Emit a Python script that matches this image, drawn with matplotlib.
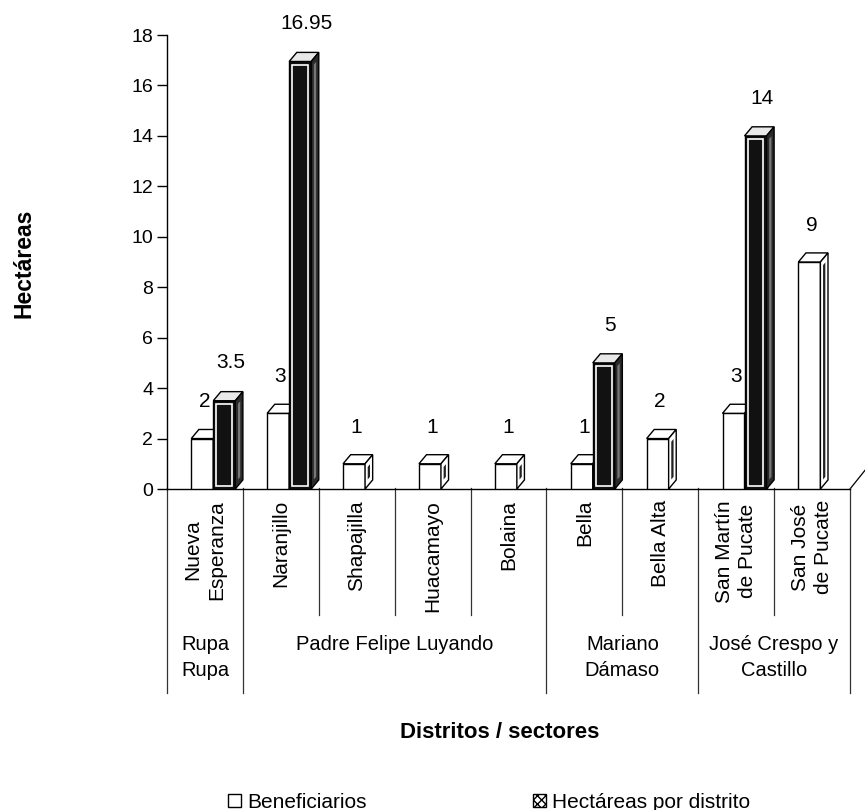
import matplotlib.pyplot as plt
from matplotlib.patches import Polygon, Patch
from matplotlib.transforms import blended_transform_factory

plt.rcParams['font.family'] = ['Liberation Sans', 'DejaVu Sans']

# data
sectores = ['Nueva\nEsperanza', 'Naranjillo', 'Shapajilla', 'Huacamayo', 'Bolaina',
            'Bella', 'Bella Alta', 'San Martín\nde Pucate', 'San José\nde Pucate']
beneficiarios = [2, 3, 1, 1, 1, 1, 2, 3, 9]
hectareas = [3.5, 16.95, None, None, None, 5, None, 14, None]
distritos = ['Rupa\nRupa', 'Padre Felipe Luyando', 'Mariano\nDámaso', 'José Crespo y\nCastillo']
sectores_por_distrito = [1, 4, 2, 2]
yticks = list(range(0, 19, 2))

W, H = 865, 810
fig = plt.figure(figsize=(W / 100, H / 100), dpi=100)
ax = fig.add_axes([167 / W, 1 - 489 / H, (850 - 167) / W, (489 - 35) / H])
ax.set_xlim(0, len(sectores))
ax.set_ylim(0, 18)

# fake 3D depth, in data units
dx, dy = 0.1, 0.36
bw = 0.29
z = [3]


def bar3d(x, h, face, side, top, dark=False):
    x0, x1 = x - bw / 2, x + bw / 2
    zo = z[0]
    ax.bar(x, h, bw, color=face, edgecolor='black', lw=1, zorder=zo)
    if dark:
        ax.bar(x, h - 0.24, bw - 0.08, bottom=0.12, fill=False,
               edgecolor='white', lw=1.2, zorder=zo + 0.1)
    ax.add_patch(Polygon([(x0, h), (x1, h), (x1 + dx, h + dy), (x0 + dx, h + dy)],
                         closed=True, fc=top, ec='black', lw=1, zorder=zo))
    ax.add_patch(Polygon([(x1, 0), (x1 + dx, dy), (x1 + dx, h + dy), (x1, h)],
                         closed=True, fc=side, ec='black', lw=1, zorder=zo))
    # inner stripe on the side face
    ax.add_patch(Polygon([(x1 + dx * 0.35, dy * 0.35 + 0.25), (x1 + dx * 0.65, dy * 0.65 + 0.25),
                          (x1 + dx * 0.65, h + dy * 0.65 - 0.25), (x1 + dx * 0.35, h + dy * 0.35 - 0.25)],
                         closed=True, fc='#222' if not dark else '#777', ec='none', zorder=zo))
    z[0] += 1


for i in range(len(sectores)):
    xb = i + 0.465
    xh = i + 0.755
    bar3d(xb, beneficiarios[i], 'white', 'white', 'white')
    ax.text(xb + 0.03, beneficiarios[i] + 1.45, f'{beneficiarios[i]:g}',
            ha='center', va='center', fontsize=15, zorder=50)
    if hectareas[i] is not None:
        bar3d(xh, hectareas[i], '#111111', '#2a2a2a', '#e8e8e8', dark=True)
        ax.text(xh + 0.08, hectareas[i] + 1.5, f'{hectareas[i]:g}',
                ha='center', va='center', fontsize=15, zorder=50)

for s in ['top', 'right']:
    ax.spines[s].set_visible(False)
ax.spines['left'].set_linewidth(1)
ax.spines['bottom'].set_linewidth(1)
ax.set_xticks([])
ax.set_yticks(yticks)
ax.tick_params(axis='y', direction='out', length=7, width=1, labelsize=14, pad=3)
ax.plot([9, 9.2], [0, 0.75], color='black', lw=0.9, clip_on=False)

# category axis below the plot
tr = blended_transform_factory(ax.transData, fig.transFigure)
y_axis = 1 - 488 / H
full = [0]
for n in sectores_por_distrito:
    full.append(full[-1] + n)
for b in range(len(sectores) + 1):
    yend = 1 - 693 / H if b in full else 1 - 615 / H
    ax.plot([b, b], [y_axis, yend], color='#333333', lw=0.9, transform=tr, clip_on=False)

for i, name in enumerate(sectores):
    ax.text(i + 0.5, 1 - 500 / H, name, transform=tr, rotation=90, ha='center', va='top',
            fontsize=15, linespacing=1.3, multialignment='center')

for k, name in enumerate(distritos):
    xc = (full[k] + full[k + 1]) / 2
    ax.text(xc, 1 - 635 / H, name, transform=tr, ha='center', va='top',
            fontsize=14.5, linespacing=1.5, multialignment='center')

fig.text(24 / W, 1 - 263 / H, 'Hectáreas', rotation=90, fontweight='bold', fontsize=16.5,
         ha='center', va='center')
fig.text(500 / W, 1 - 732 / H, 'Distritos / sectores', fontweight='bold', fontsize=16,
         ha='center', va='center')

handles = [Patch(facecolor='white', edgecolor='black', label='Beneficiarios'),
           Patch(facecolor='white', edgecolor='black', hatch='xxxx', label='Hectáreas por distrito')]
fig.legend(handles=handles, loc='center', bbox_to_anchor=(489 / W, 1 - 802 / H), ncol=2,
           frameon=False, fontsize=15, handlelength=0.6, handleheight=0.6,
           handletextpad=0.3, columnspacing=8)

fig.savefig('out.png', dpi=100)
